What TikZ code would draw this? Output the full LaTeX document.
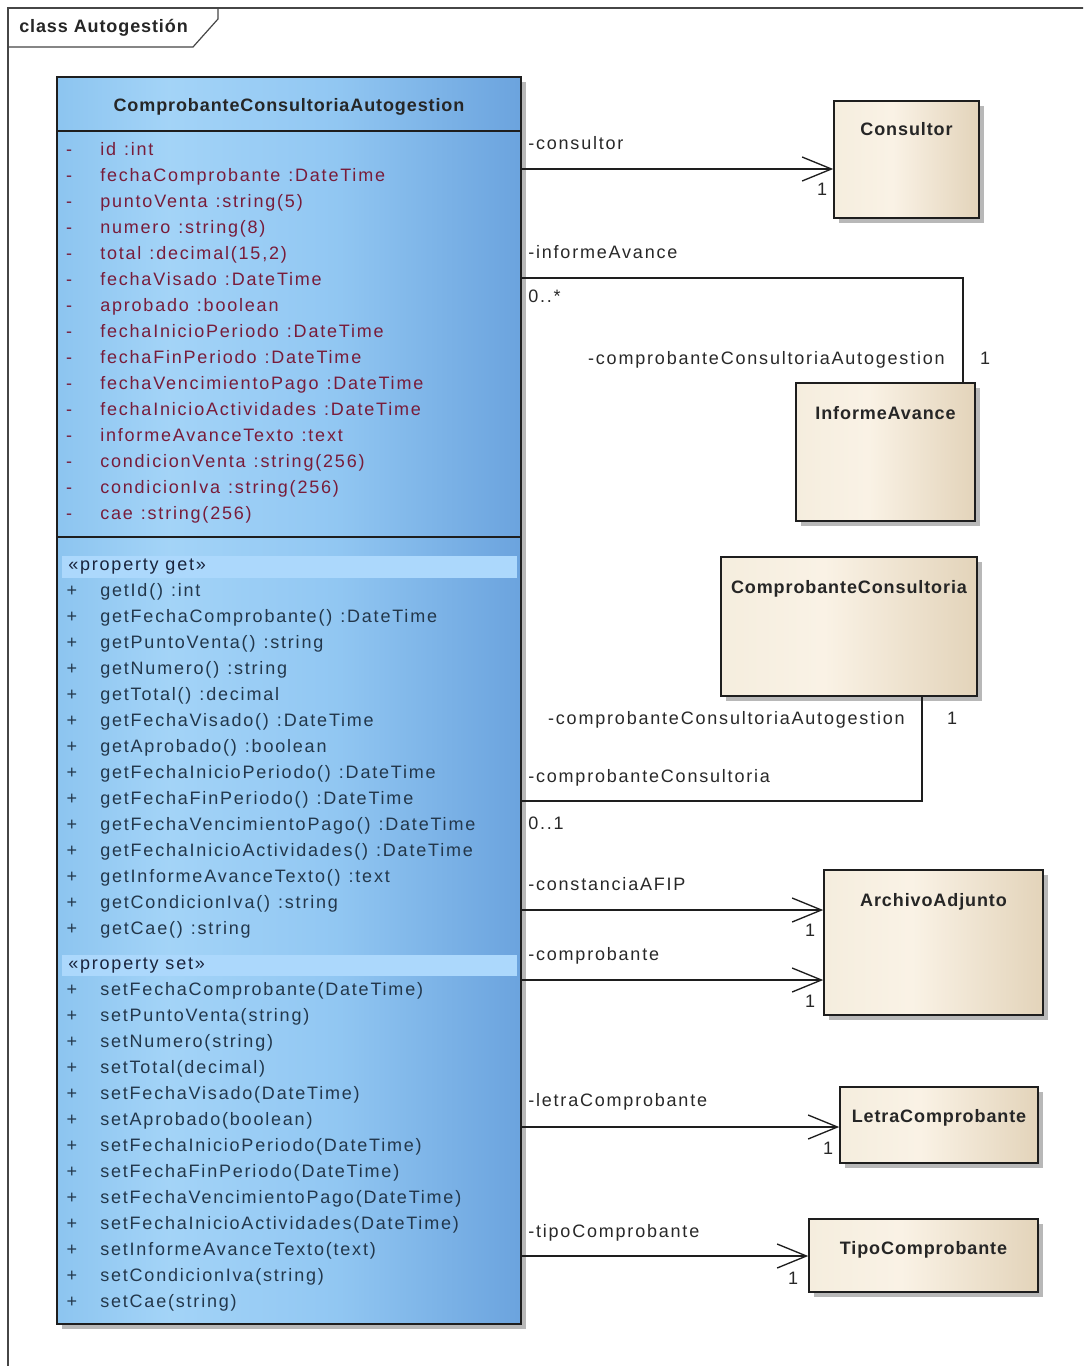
\documentclass[tikz,border=0pt]{standalone}
\usepackage{fontspec}
\newfontfamily\umlfont{Liberation Sans}[LetterSpace=10]
\newfontfamily\umlbfont{Liberation Sans}[LetterSpace=5]
\usetikzlibrary{arrows.meta,shadows}
\definecolor{attrc}{RGB}{120,28,58}
\definecolor{opc}{RGB}{35,55,75}
\definecolor{stc}{RGB}{25,35,60}
\definecolor{bandc}{RGB}{172,216,252}
\definecolor{linec}{RGB}{30,30,30}
\definecolor{labc}{RGB}{40,40,40}
\definecolor{framec}{RGB}{70,70,70}
\pgfdeclarehorizontalshading{bluesh}{100bp}{rgb(0bp)=(0.55,0.77,0.94); rgb(25bp)=(0.55,0.77,0.94); rgb(37bp)=(0.64,0.83,0.97); rgb(55bp)=(0.57,0.78,0.95); rgb(75bp)=(0.42,0.64,0.87); rgb(100bp)=(0.42,0.64,0.87)}
\pgfdeclarehorizontalshading{beigesh}{100bp}{rgb(0bp)=(0.96,0.93,0.87); rgb(25bp)=(0.96,0.93,0.87); rgb(45bp)=(0.98,0.95,0.90); rgb(75bp)=(0.89,0.83,0.73); rgb(100bp)=(0.89,0.83,0.73)}
\newcommand\umlgap{\hspace{6pt}}
\newcommand\umlsize{\fontsize{13.5}{15}\selectfont}
\tikzset{
  boxshadow/.style={drop shadow={shadow xshift=4pt, shadow yshift=-4pt, fill=black, opacity=0.28}},
  bluebox/.style={rectangle, draw=linec, line width=1.2pt, shading=bluesh, inner sep=0pt, boxshadow},
  beigebox/.style={rectangle, draw=linec, line width=1.2pt, shading=beigesh, inner sep=0pt, boxshadow},
  ctitle/.style={font=\umlbfont\umlsize\bfseries, text=black!85, inner sep=0pt, text height=0.8em, text depth=0.14em},
  rowtxt/.style={anchor=west, inner sep=0pt, text height=0.8em, text depth=0.14em, font=\umlfont\umlsize},
  attr/.style={rowtxt, text=attrc},
  oper/.style={rowtxt, text=opc},
  stereo/.style={rowtxt, text=stc},
  vis/.style={inner sep=0pt, text height=0.8em, text depth=0.14em, font=\umlfont\umlsize},
  lab/.style={inner sep=0pt, text height=0.8em, text depth=0.14em, text=labc, font=\umlfont\umlsize},
  assocline/.style={draw=linec, line width=1pt},
  assoc/.style={assocline, -{Straight Barb[length=22pt,width=18pt,line width=1pt]}},
  sepline/.style={draw=linec, line width=1.2pt},
}
\begin{document}
\begin{tikzpicture}[x=0.75pt,y=-0.75pt]
\useasboundingbox (0,0) rectangle (1083,1366);
\clip (0,0) rectangle (1083,1366);
\fill[white] (0,0) rectangle (1083,1366);
% frame
\draw[framec, line width=0.9pt] (8,1380) -- (8,8) -- (1095,8);
\draw[framec, line width=0.9pt] (8,47) -- (193,47) -- (218,19) -- (218,8);
\node[anchor=west, inner sep=0pt, font=\umlbfont\umlsize\bfseries, text=black!85, text height=0.8em, text depth=0.14em] (frametitle) at (19,28) {class Autogestión};

% main class
\node[bluebox, minimum width=348pt, minimum height=935.25pt] (main) at (289,700.5) {};
\draw[sepline] (57,131) -- (521,131);
\draw[sepline] (57,537) -- (521,537);
\fill[bandc] (62,556) rectangle (517,578);
\fill[bandc] (62,955) rectangle (517,976);
\node[ctitle] (mainname) at (289,107) {ComprobanteConsultoriaAutogestion};

\foreach \t [count=\i from 0] in {
  {id\umlgap:int},
  {fechaComprobante\umlgap:DateTime},
  {puntoVenta\umlgap:string(5)},
  {numero\umlgap:string(8)},
  {total\umlgap:decimal(15,2)},
  {fechaVisado\umlgap:DateTime},
  {aprobado\umlgap:boolean},
  {fechaInicioPeriodo\umlgap:DateTime},
  {fechaFinPeriodo\umlgap:DateTime},
  {fechaVencimientoPago\umlgap:DateTime},
  {fechaInicioActividades\umlgap:DateTime},
  {informeAvanceTexto\umlgap:text},
  {condicionVenta\umlgap:string(256)},
  {condicionIva\umlgap:string(256)},
  {cae\umlgap:string(256)}}
{
  \node[vis, text=attrc] (attrvis\i) at (69,{151+26*\i}) {-};
  \node[attr] (attr\i) at (100,{151+26*\i}) {\t};
}

\node[stereo] (stget) at (68,566) {«property get»};
\foreach \t [count=\i from 0] in {
  {getId()\umlgap:int},
  {getFechaComprobante()\umlgap:DateTime},
  {getPuntoVenta()\umlgap:string},
  {getNumero()\umlgap:string},
  {getTotal()\umlgap:decimal},
  {getFechaVisado()\umlgap:DateTime},
  {getAprobado()\umlgap:boolean},
  {getFechaInicioPeriodo()\umlgap:DateTime},
  {getFechaFinPeriodo()\umlgap:DateTime},
  {getFechaVencimientoPago()\umlgap:DateTime},
  {getFechaInicioActividades()\umlgap:DateTime},
  {getInformeAvanceTexto()\umlgap:text},
  {getCondicionIva()\umlgap:string},
  {getCae()\umlgap:string}}
{
  \node[vis, text=opc] (getvis\i) at (72,{592+26*\i}) {+};
  \node[oper] (get\i) at (100,{592+26*\i}) {\t};
}

\node[stereo] (stset) at (68,965) {«property set»};
\foreach \t [count=\i from 0] in {
  {setFechaComprobante(DateTime)},
  {setPuntoVenta(string)},
  {setNumero(string)},
  {setTotal(decimal)},
  {setFechaVisado(DateTime)},
  {setAprobado(boolean)},
  {setFechaInicioPeriodo(DateTime)},
  {setFechaFinPeriodo(DateTime)},
  {setFechaVencimientoPago(DateTime)},
  {setFechaInicioActividades(DateTime)},
  {setInformeAvanceTexto(text)},
  {setCondicionIva(string)},
  {setCae(string)}}
{
  \node[vis, text=opc] (setvis\i) at (72,{991+26*\i}) {+};
  \node[oper] (set\i) at (100,{991+26*\i}) {\t};
}

% other classes
\node[beigebox, minimum width=108.75pt, minimum height=87.75pt] (consultor) at (906.5,159.5) {};
\node[ctitle] (consultort) at (906.5,131) {Consultor};
\node[beigebox, minimum width=134.25pt, minimum height=103.5pt] (informe) at (885.5,452) {};
\node[ctitle] (informet) at (885.5,415) {InformeAvance};
\node[beigebox, minimum width=192pt, minimum height=104.25pt] (compcons) at (849,626.5) {};
\node[ctitle] (compconst) at (849,589) {ComprobanteConsultoria};
\node[beigebox, minimum width=164.25pt, minimum height=108.75pt] (archivo) at (933.5,942.5) {};
\node[ctitle] (archivot) at (933.5,902) {ArchivoAdjunto};
\node[beigebox, minimum width=148.5pt, minimum height=57pt] (letra) at (939,1125) {};
\node[ctitle] (letrat) at (939,1118) {LetraComprobante};
\node[beigebox, minimum width=171.75pt, minimum height=54.75pt] (tipo) at (923.5,1255.5) {};
\node[ctitle] (tipot) at (923.5,1250) {TipoComprobante};

% connectors
\coordinate (yconsultor) at (0,169);
\coordinate (iacorner) at (963,278);
\coordinate (cccorner) at (922,801);
\coordinate (yafip) at (0,910);
\coordinate (ycomp) at (0,980);
\coordinate (yletra) at (0,1127);
\coordinate (ytipo) at (0,1256);

\draw[assoc] (main.east |- yconsultor) -- (consultor.west |- yconsultor);
\draw[assocline] (main.east |- iacorner) -- (iacorner) -- (informe.north -| iacorner);
\draw[assocline] (main.east |- cccorner) -- (cccorner) -- (compcons.south -| cccorner);
\draw[assoc] (main.east |- yafip) -- (archivo.west |- yafip);
\draw[assoc] (main.east |- ycomp) -- (archivo.west |- ycomp);
\draw[assoc] (main.east |- yletra) -- (letra.west |- yletra);
\draw[assoc] (main.east |- ytipo) -- (tipo.west |- ytipo);

% labels
\node[lab, anchor=west] (lconsultor) at (528,145) {-consultor};
\node[lab] (mconsultor) at (822,191) {1};
\node[lab, anchor=west] (linforme) at (528,254) {-informeAvance};
\node[lab, anchor=west] (minforme) at (528,298) {0..*};
\node[lab, anchor=east] (lcca1) at (945,360) {-comprobanteConsultoriaAutogestion};
\node[lab] (mcca1) at (985,360) {1};
\node[lab, anchor=east] (lcca2) at (905,720) {-comprobanteConsultoriaAutogestion};
\node[lab] (mcca2) at (952,720) {1};
\node[lab, anchor=west] (lcc) at (528,778) {-comprobanteConsultoria};
\node[lab, anchor=west] (mcc) at (528,825) {0..1};
\node[lab, anchor=west] (lafip) at (528,886) {-constanciaAFIP};
\node[lab] (mafip) at (810,932) {1};
\node[lab, anchor=west] (lcomp) at (528,956) {-comprobante};
\node[lab] (mcomp) at (810,1003) {1};
\node[lab, anchor=west] (lletra) at (528,1102) {-letraComprobante};
\node[lab] (mletra) at (828,1150) {1};
\node[lab, anchor=west] (ltipo) at (528,1233) {-tipoComprobante};
\node[lab] (mtipo) at (793,1280) {1};
\end{tikzpicture}
\end{document}
